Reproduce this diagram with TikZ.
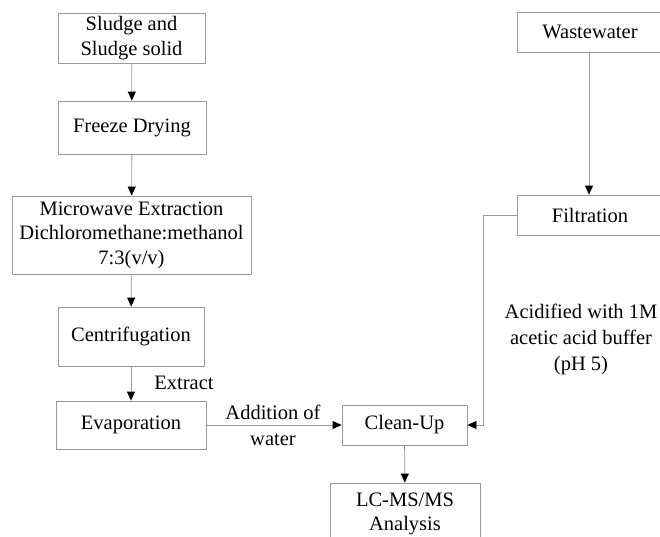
\documentclass[tikz,border=0pt]{standalone}
\usepackage{fontspec}
\setmainfont{Liberation Serif}
\usetikzlibrary{arrows.meta}

\begin{document}
\begin{tikzpicture}[x=1pt,y=-1pt,
  stepbox/.style={draw=boxgray,line width=0.8pt,align=center,inner sep=0pt,font=\fontsize{20.5}{24.5}\selectfont},
  flowarrow/.style={draw=boxgray,line width=0.8pt,-{Triangle[color=black,length=9pt,width=8pt]}},
  note/.style={align=center,font=\fontsize{20.5}{26}\selectfont}]
\definecolor{boxgray}{HTML}{9A9A9A}
\useasboundingbox (0,0) rectangle (660,536);
  % sludge line
  \node [stepbox,minimum width=147,minimum height=50] (sludge) at (131.5,38) {Sludge and\\Sludge solid};
  \node [stepbox,minimum width=148,minimum height=53] (freeze) at (132,127.5) {Freeze Drying};
  \node [stepbox,minimum width=239,minimum height=78] (micro) at (131.5,235) {Microwave Extraction\\Dichloromethane:methanol\\7:3(v/v)};
  \node [stepbox,minimum width=146,minimum height=59] (centri) at (131,336.5) {Centrifugation};
  \node [stepbox,minimum width=150,minimum height=48] (evap) at (131,425) {Evaporation};
  % wastewater line
  \node [stepbox,minimum width=146,minimum height=40] (waste) at (590,32) {Wastewater};
  \node [stepbox,minimum width=146,minimum height=40] (filt) at (590,215) {Filtration};
  % common part
  \node [stepbox,minimum width=125,minimum height=40] (clean) at (404.5,425) {Clean-Up};
  \node [stepbox,minimum width=150,minimum height=62] (lcms) at (405,514) {LC-MS/MS\\Analysis};
  \coordinate (bend) at (483,215);
  \draw [flowarrow] (sludge) -- (freeze);
  \draw [flowarrow] (freeze) -- (micro);
  \draw [flowarrow] (micro) -- (centri);
  \draw [flowarrow] (centri) -- (evap);
  \draw [flowarrow] (evap) -- (clean);
  \draw [flowarrow] (waste.south -| 589,0) -- (filt.north -| 589,0);
  \draw [flowarrow] (filt.west) -- (bend) |- (clean.east);
  \draw [flowarrow] (clean) -- (lcms);
  \node [note] (extract) at (184,383) {Extract};
  \node [note] (water) at (273,425) {Addition of\\water};
  \node [note] (acid) at (581,339) {Acidified with 1M\\acetic acid buffer\\(pH 5)};
\end{tikzpicture}
\end{document}
